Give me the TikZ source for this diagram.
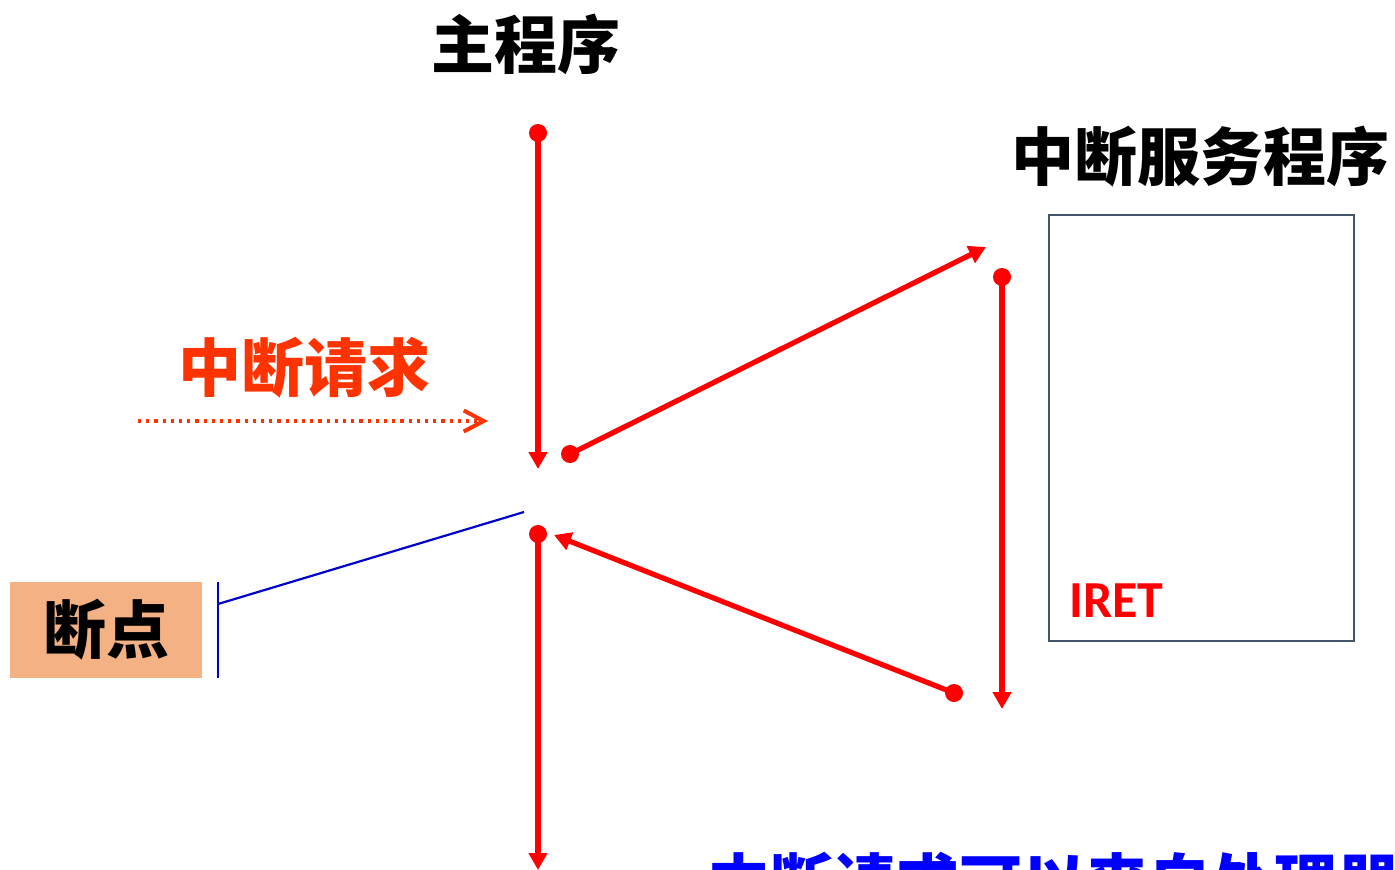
\documentclass[tikz,border=0pt]{standalone}
\usepackage{fontspec}
\newfontfamily\cjk{Noto Sans CJK SC}
\newfontfamily\lat{Carlito}
\usetikzlibrary{arrows.meta}
\definecolor{rred}{HTML}{FF0000}
\definecolor{reqc}{HTML}{FF3300}
\definecolor{bpfill}{HTML}{F4B183}
\definecolor{boxc}{HTML}{44546A}
\definecolor{bline}{HTML}{0000CC}
\definecolor{btext}{HTML}{0000FF}
\tikzset{
  title/.style={inner sep=0pt, font=\cjk\bfseries\fontsize{31.5pt}{34pt}\selectfont},
  dot/.style={circle, fill=rred, inner sep=0pt, minimum size=9pt},
  rarrow/.style={draw=rred, line width=2.6pt, -{Triangle[length=8.5pt,width=9pt]}},
  reqline/.style={draw=reqc, line width=1.6pt, dash pattern=on 1.6pt off 2.5pt, -{Straight Barb[length=10pt,width=10.5pt,line width=2pt]}},
  bp/.style={fill=bpfill, inner sep=0pt, minimum width=96pt, minimum height=48pt, font=\cjk\bfseries\fontsize{31.5pt}{34pt}\selectfont},
  isrbox/.style={draw=boxc, line width=1.1pt, inner sep=0pt, minimum width=152.5pt, minimum height=213pt},
  bluel/.style={draw=bline, line width=1.1pt}
}
\begin{document}
\begin{tikzpicture}[x=0.5pt,y=-0.5pt]
\clip (0,0) rectangle (1395,869);
\fill[white] (0,0) rectangle (1395,869);
% titles
\node[title] (main) at (526,44) {主程序};
\node[title] (isr) at (1200,157) {中断服务程序};
\node[title,text=reqc] (req) at (304,368) {中断请求};
% breakpoint box
\node[bp] (bpn) at (106,630) {断点};
% ISR box
\node[isrbox] (box) at (1201.5,428) {};
\node[anchor=west, text=rred, inner sep=0pt, font=\lat\bfseries\fontsize{26pt}{30pt}\selectfont] (iret) at (1069,601) {IRET};
% dots
\node[dot] (d1) at (538,133) {};
\node[dot] (d2) at (570,454) {};
\node[dot] (d3) at (1002,277) {};
\node[dot] (d4) at (954,693) {};
\node[dot] (d5) at (538,534) {};
% arrow ends
\coordinate (e1) at (538,469);
\coordinate (e2) at (986,247);
\coordinate (e3) at (1002,709);
\coordinate (e4) at (554,535);
\coordinate (e5) at (538,870);
\draw[rarrow] (d1.center) -- (e1);
\draw[rarrow] (d2.center) -- (e2);
\draw[rarrow] (d3.center) -- (e3);
\draw[rarrow] (d4.center) -- (e4);
\draw[rarrow] (d5.center) -- (e5);
% interrupt request arrow
\coordinate (rs) at (138,421);
\coordinate (re) at (488,421);
\draw[reqline] (rs) -- (re);
% breakpoint pointer
\coordinate (bt) at (218,582);
\coordinate (bb) at (218,678);
\coordinate (bm) at (218,604);
\coordinate (bl) at (524,512);
\draw[bluel] (bt) -- (bb);
\draw[bluel] (bm) -- (bl);
% bottom text (cut off in the reference)
\node[anchor=base west, text=btext, inner sep=0pt, font=\cjk\bfseries\fontsize{31.5pt}{34pt}\selectfont] (note) at (707,906) {中断请求可以来自处理器};
\end{tikzpicture}
\end{document}
